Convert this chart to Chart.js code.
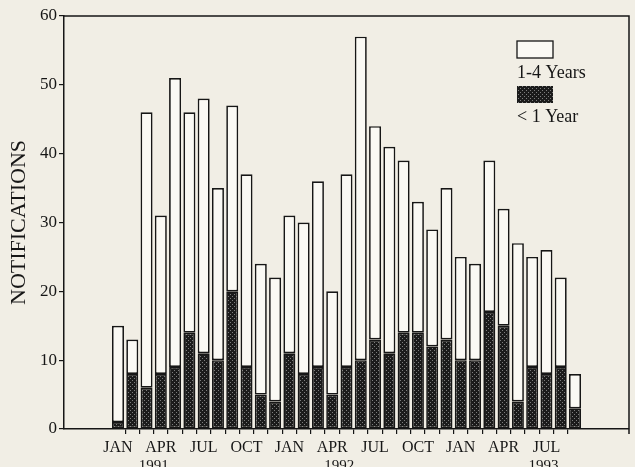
<!DOCTYPE html>
<html>
<head>
<meta charset="utf-8">
<script src="https://cdn.jsdelivr.net/npm/chart.js@4.4.1/dist/chart.umd.min.js"></script>
<style>
  body { margin: 0; background: #f1eee5; }
  canvas { display: block; }
</style>
</head>
<body>
<canvas id="chart" width="635" height="467"></canvas>
<script>
// monthly notifications, Jan 1991 - Sep 1993
var months = ["JAN 1991","FEB 1991","MAR 1991","APR 1991","MAY 1991","JUN 1991","JUL 1991","AUG 1991","SEP 1991","OCT 1991","NOV 1991","DEC 1991",
              "JAN 1992","FEB 1992","MAR 1992","APR 1992","MAY 1992","JUN 1992","JUL 1992","AUG 1992","SEP 1992","OCT 1992","NOV 1992","DEC 1992",
              "JAN 1993","FEB 1993","MAR 1993","APR 1993","MAY 1993","JUN 1993","JUL 1993","AUG 1993","SEP 1993"];
var monthPos = [1,2,3,4,5,6,7,8,9,10,11,12,13,14,15,16,17,18,19,20,21,22,23,24,25,26,27,28,29,30,31,32,33];
var underOne = [1,8,6,8,9,14,11,10,20,9,5,4, 11,8,9,5,9,10,13,11,14,14,12,13, 10,10,17,15,4,9,8,9,3];
var oneToFour = [14,5,40,23,42,32,37,25,27,28,19,18, 20,22,27,15,28,47,31,30,25,19,17,22, 15,14,22,17,23,16,18,13,5];

var monthTicks = ["JAN","APR","JUL","OCT","JAN","APR","JUL","OCT","JAN","APR","JUL"];
var monthTickPos = [1,4,7,10,13,16,19,22,25,28,31];
var yearTicks = ["1991","1992","1993"];
var yearTickPos = [3.5,16.5,30.8];
var yTicks = [0,10,20,30,40,50,60];

var ink = "#161616";
var serif = "'Liberation Serif', 'DejaVu Serif', serif";

// dotted dark fill
var tile = document.createElement("canvas");
tile.width = 4; tile.height = 4;
var tc = tile.getContext("2d");
tc.fillStyle = "#1b1b1b";
tc.fillRect(0, 0, 4, 4);
tc.fillStyle = "#7e7e7e";
tc.fillRect(0, 0, 1, 1);
tc.fillRect(2, 2, 1, 1);
var ctx = document.getElementById("chart").getContext("2d");
var dots = ctx.createPattern(tile, "repeat");

var xMin = -2.78, xMax = 36.78;

var framePlugin = {
  id: "frame",
  afterDraw: function(chart) {
    var a = chart.chartArea, c = chart.ctx;
    c.save();
    c.strokeStyle = ink;
    c.lineWidth = 1.5;
    c.beginPath();
    c.moveTo(a.left, a.top);
    c.lineTo(a.right, a.top);
    c.lineTo(a.right, a.bottom + 5);
    c.stroke();

    // legend
    var lx = a.right - 112;
    c.lineWidth = 1.3;
    c.fillStyle = "#faf9f4";
    c.fillRect(lx, a.top + 25, 36, 17);
    c.strokeRect(lx, a.top + 25, 36, 17);
    c.fillStyle = dots;
    c.fillRect(lx, a.top + 70, 36, 17);
    c.fillStyle = ink;
    c.font = "18px " + serif;
    c.textBaseline = "alphabetic";
    c.fillText("1-4 Years", lx, a.top + 62);
    c.fillText("< 1 Year", lx, a.top + 106);
    c.restore();
  }
};

new Chart(ctx, {
  type: "bar",
  data: {
    datasets: [{
      label: "< 1 Year",
      data: monthPos.map(function(p, i) { return { x: p, y: underOne[i] }; }),
      backgroundColor: dots,
      borderColor: ink,
      borderWidth: 1.7,
      borderSkipped: false
    }, {
      label: "1-4 Years",
      data: monthPos.map(function(p, i) { return { x: p, y: oneToFour[i] }; }),
      backgroundColor: "#faf9f4",
      borderColor: ink,
      borderWidth: 1.7,
      borderSkipped: false
    }]
  },
  options: {
    responsive: false,
    animation: false,
    categoryPercentage: 1,
    barPercentage: 0.84,
    layout: { padding: { top: 16, right: 6, left: 0, bottom: 0 } },
    plugins: { legend: { display: false }, tooltip: { enabled: false } },
    scales: {
      x: {
        type: "linear", stacked: true, offset: false, min: xMin, max: xMax, weight: 0,
        afterBuildTicks: function(axis) {
          axis.ticks = monthPos.slice(1).map(function(p) { return { value: p - 0.5 }; });
        },
        afterFit: function(axis) { axis.height = 5; },
        ticks: { display: false },
        grid: { offset: false, drawOnChartArea: false, tickLength: 5, color: ink, lineWidth: 1.2 },
        border: { color: ink, width: 1.5 }
      },
      xMonth: {
        type: "linear", position: "bottom", offset: false, min: xMin, max: xMax, weight: 1,
        afterBuildTicks: function(axis) {
          axis.ticks = monthTickPos.map(function(p) { return { value: p }; });
        },
        afterFit: function(axis) { axis.height = 22; },
        ticks: {
          autoSkip: false, maxRotation: 0, padding: 4, color: ink,
          font: { family: serif, size: 16 },
          callback: function(v, i) { return monthTicks[i]; }
        },
        grid: { display: false, drawTicks: false },
        border: { display: false }
      },
      xYear: {
        type: "linear", position: "bottom", offset: false, min: xMin, max: xMax, weight: 2,
        afterBuildTicks: function(axis) {
          axis.ticks = yearTickPos.map(function(p) { return { value: p }; });
        },
        afterFit: function(axis) { axis.height = 11; },
        ticks: {
          autoSkip: false, maxRotation: 0, padding: 1, color: ink,
          font: { family: serif, size: 15 },
          callback: function(v, i) { return yearTicks[i]; }
        },
        grid: { display: false, drawTicks: false },
        border: { display: false }
      },
      y: {
        stacked: true, min: 0, max: 60,
        afterBuildTicks: function(axis) {
          axis.ticks = yTicks.map(function(v) { return { value: v }; });
        },
        afterFit: function(axis) { axis.width = 64; },
        ticks: { padding: 2, color: ink, font: { family: serif, size: 17 } },
        grid: { drawOnChartArea: false, tickLength: 5, color: ink, lineWidth: 1.2 },
        border: { color: ink, width: 1.5 },
        title: {
          display: true, text: "NOTIFICATIONS", color: ink,
          font: { family: serif, size: 22 }, padding: { top: 6, bottom: 0 }
        }
      }
    }
  },
  plugins: [framePlugin]
});
</script>
</body>
</html>
